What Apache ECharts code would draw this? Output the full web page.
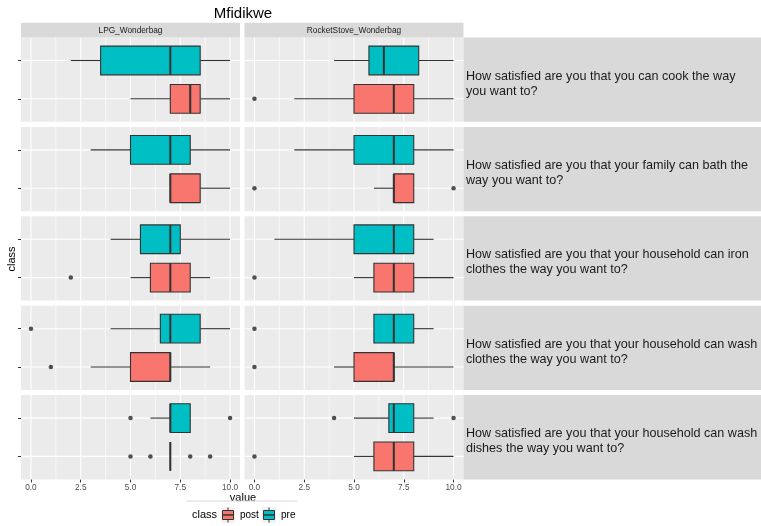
<!DOCTYPE html>
<html>
<head>
<meta charset="utf-8">
<script src="https://cdn.jsdelivr.net/npm/echarts@6/dist/echarts.min.js"></script>
<style>
  html, body { margin: 0; padding: 0; background: #ffffff; }
  #chart { width: 761px; height: 526px; }
</style>
</head>
<body>
<div id="chart"></div>
<script>
// ---- data -------------------------------------------------------------
const chartTitle = 'Mfidikwe';
const stoveGroups = ['LPG_Wonderbag', 'RocketStove_Wonderbag'];
const questions = [
  'How satisfied are you that you can cook the way\nyou want to?',
  'How satisfied are you that your family can bath the\nway you want to?',
  'How satisfied are you that your household can iron\nclothes the way you want to?',
  'How satisfied are you that your household can wash\nclothes the way you want to?',
  'How satisfied are you that your household can wash\ndishes the way you want to?'
];
const classNames = ['post', 'pre'];          // y positions 1 and 2
const classColors = ['#F8766D', '#00BFC4'];
const xTicks = [0, 2.5, 5, 7.5, 10];
const xMinorTicks = [1.25, 3.75, 6.25, 8.75];

// five-number summaries per question: [lower whisker, Q1, median, Q3, upper whisker]
const lpgPre = [[2, 3.5, 7, 8.5, 10], [3, 5, 7, 8, 10], [4, 5.5, 7, 7.5, 10], [4, 6.5, 7, 8.5, 10], [6, 7, 7, 8, 8]];
const lpgPost = [[5, 7, 8, 8.5, 10], [7, 7, 7, 8.5, 10], [5, 6, 7, 8, 9], [3, 5, 7, 7, 9], [7, 7, 7, 7, 7]];
const rocketPre = [[4, 5.75, 6.5, 8.25, 10], [2, 5, 7, 8, 10], [1, 5, 7, 8, 9], [6, 6, 7, 8, 9], [5, 6.75, 7, 8, 9]];
const rocketPost = [[2, 5, 7, 8, 10], [6, 7, 7, 8, 8], [5, 6, 7, 8, 10], [4, 5, 7, 7, 10], [5, 6, 7, 8, 10]];

// outlying answers per question
const lpgPreOutliers = [[], [], [], [0], [5, 10]];
const lpgPostOutliers = [[], [], [2], [1], [5, 6, 8, 9]];
const rocketPreOutliers = [[], [], [], [0], [4, 10]];
const rocketPostOutliers = [[0], [0, 10], [0], [0], [0]];

// ---- layout -----------------------------------------------------------
const FONT = '"Liberation Sans", Arial, Helvetica, sans-serif';
const colLeft = [21, 244.5];
const panelW = 219;
const rowTop0 = 37.5;
const rowStep = 89.4;
const panelH = 84.3;
const stripX = colLeft[1] + panelW;

const summaries = [[lpgPost, lpgPre], [rocketPost, rocketPre]];
const outliers = [[lpgPostOutliers, lpgPreOutliers], [rocketPostOutliers, rocketPreOutliers]];

function renderPanelGrid(params, api) {
  const cs = params.coordSys;
  const children = [];
  xMinorTicks.forEach(function (v) {
    const p = api.coord([v, 1.5]);
    children.push({ type: 'line', shape: { x1: p[0], y1: cs.y, x2: p[0], y2: cs.y + cs.height },
      style: { stroke: '#ffffff', lineWidth: 0.6 } });
  });
  xTicks.forEach(function (v) {
    const p = api.coord([v, 1.5]);
    children.push({ type: 'line', shape: { x1: p[0], y1: cs.y, x2: p[0], y2: cs.y + cs.height },
      style: { stroke: '#ffffff', lineWidth: 1.1 } });
  });
  [1, 2].forEach(function (v) {
    const p = api.coord([5, v]);
    children.push({ type: 'line', shape: { x1: cs.x, y1: p[1], x2: cs.x + cs.width, y2: p[1] },
      style: { stroke: '#ffffff', lineWidth: 1.1 } });
  });
  return { type: 'group', children: children };
}

function renderBox(params, api) {
  const pos = api.value(0);
  const pLo = api.coord([api.value(1), pos]);
  const pQ1 = api.coord([api.value(2), pos]);
  const pMed = api.coord([api.value(3), pos]);
  const pQ3 = api.coord([api.value(4), pos]);
  const pHi = api.coord([api.value(5), pos]);
  const half = api.size([0, 0.375])[1];
  const yc = pQ1[1];
  const edge = '#333333';
  return {
    type: 'group',
    children: [
      { type: 'line', shape: { x1: pLo[0], y1: yc, x2: pQ1[0], y2: yc }, style: { stroke: edge, lineWidth: 1.1 } },
      { type: 'line', shape: { x1: pQ3[0], y1: yc, x2: pHi[0], y2: yc }, style: { stroke: edge, lineWidth: 1.1 } },
      { type: 'rect', shape: { x: pQ1[0], y: yc - half, width: pQ3[0] - pQ1[0], height: 2 * half },
        style: { fill: classColors[pos - 1], stroke: edge, lineWidth: 1.1 } },
      { type: 'line', shape: { x1: pMed[0], y1: yc - half, x2: pMed[0], y2: yc + half },
        style: { stroke: edge, lineWidth: 2 } }
    ]
  };
}

const grids = [], xAxes = [], yAxes = [], series = [];
for (let r = 0; r < questions.length; r++) {
  for (let c = 0; c < stoveGroups.length; c++) {
    const idx = grids.length;
    const bottom = r === questions.length - 1;
    grids.push({ left: colLeft[c], top: rowTop0 + r * rowStep, width: panelW, height: panelH,
      show: true, backgroundColor: '#EBEBEB', borderWidth: 0 });
    xAxes.push({
      gridIndex: idx, type: 'value', min: -0.5, max: 10.5, position: 'bottom',
      axisLine: { show: false, onZero: false },
      axisTick: { show: bottom, customValues: xTicks, length: 3, lineStyle: { color: '#333333', width: 1 } },
      axisLabel: { show: bottom, customValues: xTicks, margin: 4, color: '#4D4D4D', fontSize: 8.3, fontFamily: FONT,
        formatter: function (v) { return v.toFixed(1); } },
      splitLine: { show: false }
    });
    yAxes.push({
      gridIndex: idx, type: 'value', min: 0.4, max: 2.6, position: 'left',
      axisLine: { show: false, onZero: false },
      axisTick: { show: c === 0, customValues: [1, 2], length: 3, lineStyle: { color: '#333333', width: 1 } },
      axisLabel: { show: false },
      splitLine: { show: false }
    });
    series.push({
      type: 'custom', xAxisIndex: idx, yAxisIndex: idx, silent: true, z: 1,
      renderItem: renderPanelGrid, data: [[5, 1.5]]
    });
    const boxData = [];
    const dots = [];
    for (let k = 0; k < classNames.length; k++) {
      boxData.push([k + 1].concat(summaries[c][k][r]));
      outliers[c][k][r].forEach(function (v) { dots.push([v, k + 1]); });
    }
    series.push({
      type: 'custom', xAxisIndex: idx, yAxisIndex: idx, silent: true, z: 2,
      renderItem: renderBox, encode: { x: [1, 2, 3, 4, 5], y: 0 }, data: boxData
    });
    series.push({
      type: 'scatter', xAxisIndex: idx, yAxisIndex: idx, silent: true, z: 3,
      symbol: 'circle', symbolSize: 4.5, itemStyle: { color: '#262626' }, data: dots
    });
  }
}

// facet strips, titles and legend
const graphics = [];
graphics.push({ type: 'text',
  style: { text: chartTitle, x: 243, y: 14, align: 'center', verticalAlign: 'middle',
    font: '15px ' + FONT, fill: '#000000' } });
stoveGroups.forEach(function (g, c) {
  graphics.push({ type: 'rect', shape: { x: colLeft[c], y: 22.7, width: panelW, height: 14.8 },
    style: { fill: '#D9D9D9' } });
  graphics.push({ type: 'text', style: { text: g, x: colLeft[c] + panelW / 2, y: 30.3, align: 'center',
    verticalAlign: 'middle', font: '8.3px ' + FONT, fill: '#1A1A1A' } });
});
questions.forEach(function (q, r) {
  const top = rowTop0 + r * rowStep;
  graphics.push({ type: 'rect', shape: { x: stripX, y: top, width: 761 - stripX, height: panelH },
    style: { fill: '#D9D9D9' } });
  graphics.push({ type: 'text', style: { text: q, x: 466, y: top + panelH / 2 + 4, align: 'left',
    verticalAlign: 'middle', font: '12.6px ' + FONT, lineHeight: 15, fill: '#1A1A1A' } });
});
graphics.push({ type: 'text', style: { text: 'value', x: 243, y: 497.5, align: 'center', verticalAlign: 'middle',
  font: '11px ' + FONT, fill: '#000000' } });
graphics.push({ type: 'text', rotation: Math.PI / 2, x: 11.5, y: 259,
  style: { text: 'class', x: 0, y: 0, align: 'center', verticalAlign: 'middle', font: '11px ' + FONT, fill: '#000000' } });
graphics.push({ type: 'line', shape: { x1: 187, y1: 501, x2: 297, y2: 501 }, style: { stroke: '#D6D6D6', lineWidth: 1 } });
graphics.push({ type: 'text', style: { text: 'class', x: 192, y: 515, align: 'left', verticalAlign: 'middle',
  font: '11px ' + FONT, fill: '#000000' } });
const keyX = [221, 262];
const keyLabelX = [240, 281];
classNames.forEach(function (name, k) {
  const x0 = keyX[k];
  graphics.push({ type: 'rect', shape: { x: x0, y: 507, width: 14, height: 16 }, style: { fill: '#F2F2F2' } });
  graphics.push({ type: 'line', shape: { x1: x0 + 7, y1: 507.5, x2: x0 + 7, y2: 522.5 },
    style: { stroke: '#333333', lineWidth: 1 } });
  graphics.push({ type: 'rect', shape: { x: x0 + 1.5, y: 510.5, width: 11, height: 9 },
    style: { fill: classColors[k], stroke: '#333333', lineWidth: 1 } });
  graphics.push({ type: 'line', shape: { x1: x0 + 1.5, y1: 515, x2: x0 + 12.5, y2: 515 },
    style: { stroke: '#333333', lineWidth: 1.5 } });
  graphics.push({ type: 'text', style: { text: name, x: keyLabelX[k], y: 515, align: 'left', verticalAlign: 'middle',
    font: '10px ' + FONT, fill: '#000000' } });
});

const chart = echarts.init(document.getElementById('chart'), null, { renderer: 'canvas' });
chart.setOption({
  animation: false,
  backgroundColor: '#ffffff',
  grid: grids,
  xAxis: xAxes,
  yAxis: yAxes,
  series: series,
  graphic: graphics
});
</script>
</body>
</html>
